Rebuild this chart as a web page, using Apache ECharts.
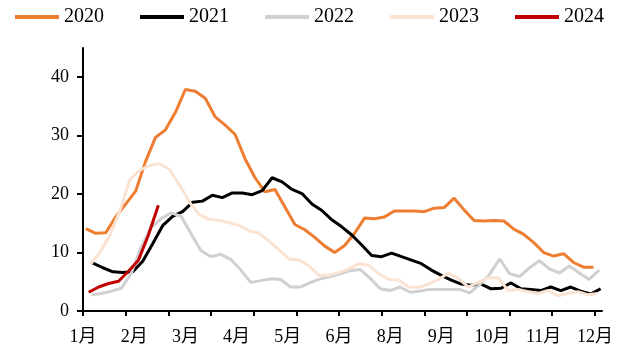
<!DOCTYPE html>
<html>
<head>
<meta charset="utf-8">
<script src="https://cdn.jsdelivr.net/npm/echarts@6/dist/echarts.min.js"></script>
<style>
  html, body { margin: 0; padding: 0; background: #ffffff; }
  #chart { width: 633px; height: 356px; }
</style>
</head>
<body>
<div id="chart"></div>
<script>
// Weekly (Friday) readings per year
const years = ['2020', '2021', '2022', '2023', '2024'];

// Day of year (0 = 1 Jan) of each year's first weekly reading
const firstDay = [2, 7, 6, 5, 4];

const v2020 = [14.1, 13.3, 13.4, 16.1, 18.3, 20.5, 25.6, 29.7, 31.0, 34.0,
               37.9, 37.6, 36.4, 33.2, 31.8, 30.2, 26.0, 22.8, 20.4, 20.8,
               17.8, 14.8, 13.9, 12.6, 11.1, 10.0, 11.2, 13.3, 15.9, 15.8,
               16.1, 17.1, 17.1, 17.1, 17.0, 17.6, 17.7, 19.3, 17.3, 15.5,
               15.4, 15.5, 15.4, 14.0, 13.1, 11.7, 10.0, 9.4, 9.8, 8.3,
               7.5, 7.5];

const v2021 = [8.2, 7.4, 6.7, 6.6, 6.7, 8.5, 11.5, 14.6, 16.2, 17.0,
               18.6, 18.8, 19.8, 19.4, 20.2, 20.2, 19.9, 20.6, 22.8, 22.1,
               20.8, 20.1, 18.3, 17.2, 15.6, 14.4, 13.0, 11.3, 9.5, 9.3,
               9.9, 9.3, 8.7, 8.1, 7.0, 6.1, 5.3, 4.6, 4.4, 4.6,
               3.8, 3.9, 4.8, 3.8, 3.7, 3.5, 4.1, 3.5, 4.1, 3.4,
               2.9, 3.8];

const v2022 = [2.8, 3.0, 3.4, 3.9, 6.5, 11.0, 14.3, 15.8, 16.8, 16.2,
               13.2, 10.3, 9.3, 9.7, 8.8, 7.0, 4.9, 5.2, 5.5, 5.4,
               4.1, 4.1, 4.9, 5.5, 5.9, 6.4, 6.9, 7.1, 5.6, 3.8,
               3.5, 4.1, 3.2, 3.4, 3.7, 3.7, 3.7, 3.7, 3.1, 4.5,
               6.3, 8.9, 6.4, 5.9, 7.4, 8.6, 7.2, 6.5, 7.7, 6.5,
               5.4, 7.0];

const v2023 = [8.0, 10.0, 13.0, 17.2, 22.5, 24.1, 24.9, 25.2, 24.2, 21.5,
               18.6, 16.4, 15.7, 15.5, 15.1, 14.6, 13.7, 13.3, 11.9, 10.4,
               8.9, 8.7, 7.7, 6.1, 6.1, 6.6, 7.2, 8.1, 7.8, 6.4,
               5.4, 5.3, 4.1, 4.0, 4.6, 5.4, 6.5, 5.6, 4.1, 4.9,
               5.7, 5.7, 3.5, 3.7, 3.3, 3.0, 3.5, 2.6, 3.0, 3.3,
               2.8, 3.0];

const v2024 = [3.2, 4.1, 4.7, 5.1, 6.8, 8.7, 13.0, 18.1];

// Axis labels
const monthLabels = ['1月', '2月', '3月', '4月', '5月', '6月', '8月', '9月', '10月', '11月', '12月'];
const yTickValues = [0, 10, 20, 30, 40];

const seriesValues = [v2020, v2021, v2022, v2023, v2024];
const colors = ['#ED7D31', '#000000', '#D0D0D0', '#FBE3D3', '#C00000'];

const DAYS_PER_WEEK = 7;
const LABEL_STEP = 36;   // days between month labels
const TICK_STEP = 30;    // days between tick marks

const labelDays = monthLabels.map((_, i) => i * LABEL_STEP);
const tickDays = [];
for (let d = 0; d <= 360; d += TICK_STEP) tickDays.push(d);

const fontFamily = '"Liberation Serif", "Noto Sans CJK SC", serif';

const chart = echarts.init(document.getElementById('chart'), null, { renderer: 'canvas' });

const series = years.map((name, k) => ({
  name: name,
  type: 'line',
  data: seriesValues[k].map((v, i) => [firstDay[k] + i * DAYS_PER_WEEK, v]),
  showSymbol: false,
  symbol: 'none',
  lineStyle: { color: colors[k], width: 3 },
  itemStyle: { color: colors[k] },
  emphasis: { disabled: true },
  animation: false
}));

chart.setOption({
  animation: false,
  backgroundColor: '#ffffff',
  legend: {
    data: years,
    left: 10,
    top: 2,
    icon: 'rect',
    itemWidth: 44,
    itemHeight: 4,
    itemGap: 36,
    textStyle: { fontFamily: fontFamily, fontSize: 20, color: '#000000' }
  },
  grid: { left: 83, right: 31, top: 48, bottom: 45 },
  xAxis: {
    type: 'value',
    min: 0,
    max: 365,
    splitLine: { show: false },
    axisLine: { show: true, lineStyle: { color: '#000000', width: 2 } },
    axisTick: {
      show: true,
      customValues: tickDays,
      length: 5,
      lineStyle: { color: '#000000', width: 2 }
    },
    axisLabel: {
      customValues: labelDays,
      margin: 17,
      fontFamily: fontFamily,
      fontSize: 18,
      color: '#000000',
      formatter: function (val) {
        const idx = labelDays.indexOf(val);
        return idx >= 0 ? monthLabels[idx] : '';
      }
    }
  },
  yAxis: {
    type: 'value',
    min: 0,
    max: 45,
    splitLine: { show: false },
    axisLine: { show: true, lineStyle: { color: '#000000', width: 2 } },
    axisTick: {
      show: true,
      customValues: yTickValues,
      length: 6,
      lineStyle: { color: '#000000', width: 2 }
    },
    axisLabel: {
      customValues: yTickValues,
      margin: 14,
      fontFamily: fontFamily,
      fontSize: 18,
      color: '#000000'
    }
  },
  series: series
});
</script>
</body>
</html>
